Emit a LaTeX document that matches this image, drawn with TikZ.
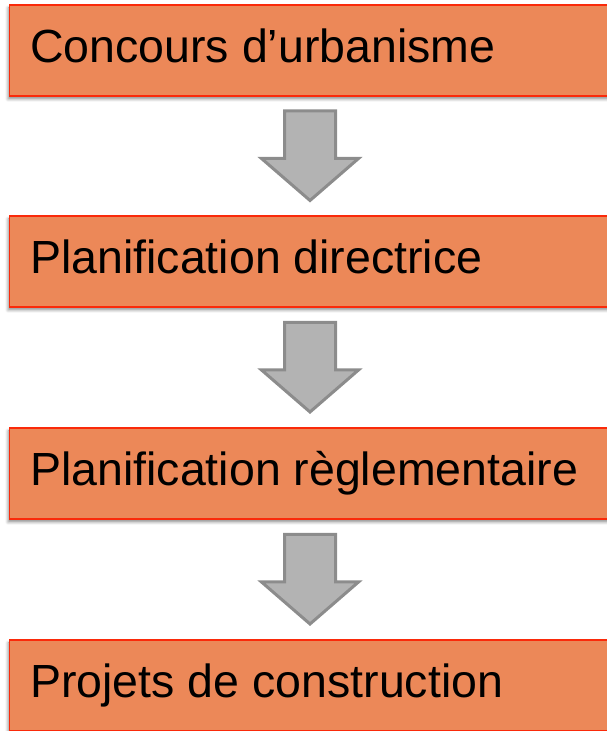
\documentclass[tikz,border=0pt]{standalone}
\usepackage{fontspec}
\setmainfont{Liberation Sans}
\usetikzlibrary{calc,shadows.blur}
\definecolor{boxfill}{RGB}{236,136,88}
\definecolor{boxline}{RGB}{250,42,10}
\definecolor{arrowfill}{RGB}{179,179,179}
\definecolor{arrowline}{RGB}{140,140,140}
\tikzset{
  stepbox/.style={draw=boxline, line width=1.3pt, fill=boxfill, anchor=west,
    minimum height=91pt, minimum width=612pt, inner sep=0pt,
    blur shadow={shadow xshift=-1.5pt, shadow yshift=-3pt, shadow blur radius=3pt, shadow opacity=45}},
  steplabel/.style={anchor=base west, inner sep=0pt,
    font=\fontsize{46.5}{55}\selectfont},
  pics/blockarrow/.style={code={
    \draw[draw=arrowline, fill=arrowfill, line width=3pt, line join=miter]
      (-25.5pt,45pt) -- (25.5pt,45pt) -- (25.5pt,-2.5pt) -- (48.5pt,-2.5pt)
      -- (0pt,-44.5pt) -- (-48.5pt,-2.5pt) -- (-25.5pt,-2.5pt) -- cycle;
  }}
}
\begin{document}
\begin{tikzpicture}[x=1pt,y=1pt]
  \useasboundingbox (0,0) rectangle (607,731);
  \clip (0,0) rectangle (607,731);
  \node[stepbox] (b1) at (9,680.5) {};
  \node[stepbox] (b2) at (9,469.5) {};
  \node[stepbox] (b3) at (9,257.5) {};
  \node[stepbox] (b4) at (9,45.5) {};
  \node[steplabel] (t1) at ([xshift=21pt,yshift=-12pt]b1.west) {Concours d’urbanisme};
  \node[steplabel] (t2) at ([xshift=21pt,yshift=-12pt]b2.west) {Planification directrice};
  \node[steplabel] (t3) at ([xshift=21pt,yshift=-12pt]b3.west) {Planification règlementaire};
  \node[steplabel] (t4) at ([xshift=21pt,yshift=-12pt]b4.west) {Projets de construction};
  \coordinate (a1) at ($(b1.south west)!0.5!(b2.north west)$);
  \coordinate (a2) at ($(b2.south west)!0.5!(b3.north west)$);
  \coordinate (a3) at ($(b3.south west)!0.5!(b4.north west)$);
  \pic at ([xshift=301pt]a1) {blockarrow};
  \pic at ([xshift=301pt]a2) {blockarrow};
  \pic at ([xshift=301pt]a3) {blockarrow};
\end{tikzpicture}
\end{document}
